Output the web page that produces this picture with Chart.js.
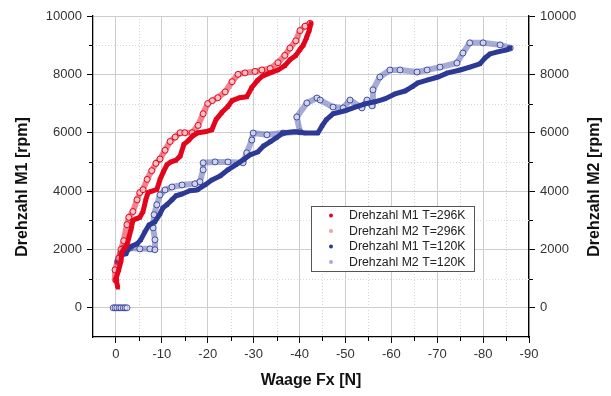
<!DOCTYPE html>
<html>
<head>
<meta charset="utf-8">
<script src="https://cdn.jsdelivr.net/npm/chart.js@4.4.0/dist/chart.umd.min.js"></script>
<style>
    html, body { margin: 0; padding: 0; background: #fff; }
</style>
</head>
<body>
<canvas id="chart_fx" width="611" height="396"></canvas>
<script>
// Axis ticks
var xMajor = [0, -10, -20, -30, -40, -50, -60, -70, -80, -90];
var xMinor = [-5, -15, -25, -35, -45, -55, -65, -75, -85];
var yMajor = [0, 2000, 4000, 6000, 8000, 10000];
var yMinor = [1000, 3000, 5000, 7000, 9000];

var seriesLabels = ["Drehzahl M1 T=296K", "Drehzahl M2 T=296K", "Drehzahl M1 T=120K", "Drehzahl M2 T=120K"];

// [Waage Fx (N), Drehzahl (rpm)], null = gap in the trace
var rpmM1_296K = [
    [-0.4, 700], [0, 1000], [-0.6, 1300], [-1.1, 1600], [-1.3, 1900], [-1.7, 2000], [-2.4, 2150], [-2.8, 2400],
    [-3.3, 2700], [-3.7, 3000], [-4.4, 3050], [-5.2, 3100], [-5.9, 3300], [-6.5, 3700], [-7, 3950], [-7.8, 4000],
    [-8.9, 4050], [-9.6, 4400], [-10.3, 4650], [-11.1, 4900], [-12, 5000], [-13, 5050], [-14, 5200], [-14.8, 5600],
    [-15.9, 5750], [-16.8, 5900], [-17.9, 6000], [-19.4, 6030], [-20.9, 6100], [-21.8, 6450], [-23.1, 6700],
    [-24.4, 6900], [-25.3, 7100], [-27, 7200], [-28.5, 7230], [-29.6, 7550], [-30.9, 7800], [-32, 7950],
    [-33.6, 8050], [-35.3, 8150], [-36.8, 8300], [-37.9, 8500], [-39.2, 8650], [-40.1, 8850], [-40.8, 9000],
    [-41.5, 9250], [-42.1, 9500], [-42.5, 9750]
];
var rpmM2_296K = [
    [0, 950], [0.2, 1300], [-0.6, 1700], [-1.1, 2000], [-1.7, 2300], [-2.4, 2850], [-2.8, 3100], [-3.7, 3300],
    [-4.6, 3700], [-5.2, 3950], [-5.9, 4050], [-6.8, 4400], [-7.8, 4700], [-8.7, 4950], [-9.6, 5100],
    [-10.7, 5400], [-11.8, 5700], [-12.9, 5850], [-14, 6000], [-15, 6000], [-16.6, 6000], [-17.9, 6250],
    [-19, 6650], [-20, 7000], [-21, 7100], [-22.2, 7200], [-23.8, 7400], [-25.3, 7750], [-26.6, 8000],
    [-28.1, 8050], [-30.3, 8100], [-31.8, 8150], [-33.6, 8200], [-35.3, 8400], [-36.8, 8650], [-37.9, 8900],
    [-39.2, 9150], [-40.1, 9500], [-41.2, 9650], [-42.3, 9750]
];
var rpmM1_120K = [
    [-0.2, 1580], [-0.6, 1710], [-1.3, 1820], [-2.2, 1850], [-2.6, 1990], [-3.5, 2120], [-4.6, 2190],
    [-5.4, 2330], [-6.3, 2600], [-7.2, 2840], [-8.5, 2950], [-9.6, 3220], [-10.2, 3420], [-11.1, 3530],
    [-12.2, 3700], [-13.1, 3840], [-14.4, 3900], [-16.1, 4010], [-17.7, 4040], [-19.4, 4210], [-20.9, 4380],
    [-22.7, 4520], [-24.4, 4730], [-26.1, 4900], [-27.7, 5070], [-29.2, 5240], [-30.9, 5340], [-32.2, 5550],
    [-33.6, 5690], [-34.9, 5820], [-36.4, 5990], [-39, 6030], [-41.2, 5990], [-44, 5990], [-44.9, 6230],
    [-45.8, 6440], [-47.3, 6650], [-49.9, 6750], [-52.1, 6880], [-54.3, 6990], [-56.4, 7060], [-58.6, 7160],
    [-60.8, 7330], [-63, 7430], [-64.5, 7570], [-65.8, 7710], [-68, 7810], [-70.2, 7910], [-72.3, 8050],
    [-75, 8150], [-77.1, 8250], [-79.3, 8360], [-80.4, 8560], [-81.5, 8700], [-83.2, 8770], [-85.2, 8840],
    [-85.9, 8900]
];
var rpmM2_120K = [
    [0.6, 0], [0.2, 0], [-0.2, 0], [-0.7, 0], [-1.1, 0], [-1.6, 0], [-2, 0], [-2.4, 0], null,
    [-0.4, 1580], [-1.1, 1880], [-1.7, 2050], [-3.1, 2050], [-5.2, 2020], [-7.4, 2020], [-8.5, 1990],
    [-8.5, 2330], [-8.1, 2740], [-8.3, 3190], [-8.9, 3530], [-9.6, 3870], [-10.7, 4040], [-12.2, 4140],
    [-14.4, 4210], [-17.2, 4250], [-18.3, 4320], [-19, 4730], [-19, 4970], [-21.6, 5000], [-24.4, 5000],
    [-27.7, 4970], [-28.5, 5310], [-29.6, 5750], [-29.9, 5990], [-32.9, 5930], [-36.4, 5990], [-40.1, 6030],
    [-39.4, 6540], [-41.6, 7020], [-43.8, 7190], [-44.5, 7120], [-47.3, 6880], [-49.5, 6850], [-51, 7120],
    [-53.6, 6850], [-54.7, 7120], [-55.8, 6920], [-56, 7470], [-57.5, 7910], [-59.7, 8150], [-61.9, 8150],
    [-65.6, 8080], [-67.8, 8150], [-70.6, 8250], [-74.3, 8390], [-75.6, 8730], [-77.1, 9080], [-80, 9080],
    [-83.7, 9010], [-85.9, 8900]
];

var FONT = "'Liberation Sans', Arial, sans-serif";

function toPoints(arr) {
    return arr.map(function(p) {
        return p ? { x: p[0], y: p[1] } : { x: null, y: null };
    });
}

var minorAndTitles = {
    id: 'minorAndTitles',
    beforeDatasetsDraw: function(chart) {
        var ctx = chart.ctx, a = chart.chartArea;
        var sx = chart.scales.x, sy = chart.scales.y;
        ctx.save();
        // dotted minor grid
        ctx.strokeStyle = '#d6d6d6';
        ctx.lineWidth = 1;
        ctx.setLineDash([1, 2]);
        xMinor.forEach(function(v) {
            var p = Math.round(sx.getPixelForValue(v)) + 0.5;
            ctx.beginPath(); ctx.moveTo(p, a.top); ctx.lineTo(p, a.bottom); ctx.stroke();
        });
        yMinor.forEach(function(v) {
            var p = Math.round(sy.getPixelForValue(v)) + 0.5;
            ctx.beginPath(); ctx.moveTo(a.left, p); ctx.lineTo(a.right, p); ctx.stroke();
        });
        ctx.setLineDash([]);
        // minor tick marks
        ctx.strokeStyle = '#000';
        xMinor.forEach(function(v) {
            var p = Math.round(sx.getPixelForValue(v)) + 0.5;
            ctx.beginPath(); ctx.moveTo(p, a.bottom); ctx.lineTo(p, a.bottom + 4); ctx.stroke();
        });
        yMinor.forEach(function(v) {
            var p = Math.round(sy.getPixelForValue(v)) + 0.5;
            ctx.beginPath(); ctx.moveTo(a.left - 4, p); ctx.lineTo(a.left, p); ctx.stroke();
            ctx.beginPath(); ctx.moveTo(a.right, p); ctx.lineTo(a.right + 4, p); ctx.stroke();
        });
        ctx.restore();
    },
    afterDraw: function(chart) {
        var ctx = chart.ctx, a = chart.chartArea;
        ctx.save();
        ctx.fillStyle = '#111';
        ctx.font = 'bold 16px ' + FONT;
        ctx.textAlign = 'center';
        ctx.textBaseline = 'middle';
        // axis titles
        ctx.fillText('Waage Fx [N]', (a.left + a.right) / 2, 381);
        [[23, 'Drehzahl M1 [rpm]'], [595, 'Drehzahl M2 [rpm]']].forEach(function(t) {
            ctx.save();
            ctx.translate(t[0], 187);
            ctx.rotate(-Math.PI / 2);
            ctx.fillText(t[1], 0, 0);
            ctx.restore();
        });
        // legend box
        ctx.fillStyle = '#fff';
        ctx.fillRect(311.5, 206.5, 163, 65);
        ctx.strokeStyle = '#555';
        ctx.lineWidth = 1;
        ctx.strokeRect(311.5, 206.5, 163, 65);
        var marks = ['#e3051b', '#f0a0a8', '#2c3a8c', '#aaaad8'];
        ctx.font = '12.3px ' + FONT;
        ctx.textAlign = 'left';
        seriesLabels.forEach(function(lbl, i) {
            var yy = 215.5 + i * 15.5;
            ctx.fillStyle = marks[i];
            ctx.beginPath(); ctx.arc(331, yy, 2, 0, Math.PI * 2); ctx.fill();
            ctx.fillStyle = '#222';
            ctx.fillText(lbl, 349, yy + 0.5);
        });
        ctx.restore();
    }
};

var RED = '#e3051b';
var BLUE = '#2c3a96';

var objData = {
    datasets: [
        {
            label: seriesLabels[0],
            data: toPoints(rpmM1_296K),
            yAxisID: 'y',
            showLine: true,
            borderColor: RED,
            borderWidth: 5,
            borderJoinStyle: 'round',
            pointStyle: 'rect',
            pointRadius: 3,
            pointBackgroundColor: RED,
            pointBorderColor: RED,
            pointBorderWidth: 0,
            order: 0
        },
        {
            label: seriesLabels[1],
            data: toPoints(rpmM2_296K),
            yAxisID: 'y2',
            showLine: true,
            borderColor: 'rgba(232, 30, 50, 0.55)',
            borderWidth: 6,
            borderJoinStyle: 'round',
            pointStyle: 'circle',
            pointRadius: 3,
            pointBackgroundColor: 'rgba(255,255,255,0.5)',
            pointBorderColor: RED,
            pointBorderWidth: 1,
            order: 1
        },
        {
            label: seriesLabels[2],
            data: toPoints(rpmM1_120K),
            yAxisID: 'y',
            showLine: true,
            borderColor: BLUE,
            borderWidth: 5,
            borderJoinStyle: 'round',
            pointStyle: 'rect',
            pointRadius: 3,
            pointBackgroundColor: BLUE,
            pointBorderColor: BLUE,
            pointBorderWidth: 0,
            order: 2
        },
        {
            label: seriesLabels[3],
            data: toPoints(rpmM2_120K),
            yAxisID: 'y2',
            showLine: true,
            spanGaps: false,
            borderColor: 'rgba(60, 72, 165, 0.45)',
            borderWidth: 6,
            borderJoinStyle: 'round',
            pointStyle: 'circle',
            pointRadius: 3,
            pointBackgroundColor: 'rgba(255,255,255,0.5)',
            pointBorderColor: 'rgba(44, 58, 150, 0.85)',
            pointBorderWidth: 1,
            order: 3
        }
    ]
};

var tickFont = { family: FONT, size: 13 };

var objOptions = {
    responsive: false,
    animation: false,
    layout: { padding: { top: 16, left: 0, right: 0, bottom: 0 } },
    plugins: { legend: { display: false }, tooltip: { enabled: false } },
    scales: {
        x: {
            type: 'linear',
            position: 'bottom',
            min: -90,
            max: 5,
            reverse: true,
            afterBuildTicks: function(scale) {
                scale.ticks = xMajor.map(function(v) { return { value: v }; });
            },
            afterFit: function(scale) { scale.height = 59; },
            ticks: {
                font: tickFont, color: '#333', padding: 4, maxRotation: 0, autoSkip: false,
                callback: function(v) { return String(v); }
            },
            grid: { color: '#cdcdcd', lineWidth: 1, tickLength: 6, tickColor: '#000' },
            border: { color: '#000', width: 1.3 }
        },
        y: {
            type: 'linear',
            position: 'left',
            min: -1000,
            max: 10000,
            afterBuildTicks: function(scale) {
                scale.ticks = yMajor.map(function(v) { return { value: v }; });
            },
            afterFit: function(scale) { scale.width = 93; },
            ticks: {
                font: tickFont, color: '#333', padding: 5, autoSkip: false,
                callback: function(v) { return String(v); }
            },
            grid: { color: '#cdcdcd', lineWidth: 1, tickLength: 6, tickColor: '#000' },
            border: { color: '#000', width: 1.3 }
        },
        y2: {
            type: 'linear',
            position: 'right',
            min: -1000,
            max: 10000,
            afterBuildTicks: function(scale) {
                scale.ticks = yMajor.map(function(v) { return { value: v }; });
            },
            afterFit: function(scale) { scale.width = 82; },
            ticks: {
                font: tickFont, color: '#333', padding: 5, autoSkip: false,
                callback: function(v) { return String(v); }
            },
            grid: { drawOnChartArea: false, tickLength: 6, tickColor: '#000' },
            border: { color: '#000', width: 1.3 }
        }
    }
};

var elChart = document.getElementById('chart_fx');
var objChart = new Chart(elChart, {
    type: 'scatter',
    data: objData,
    options: objOptions,
    plugins: [minorAndTitles]
});
</script>
</body>
</html>
